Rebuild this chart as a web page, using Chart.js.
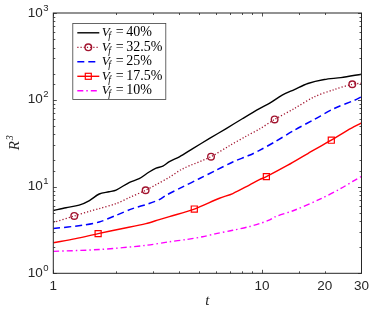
<!DOCTYPE html>
<html>
<head>
<meta charset="utf-8">
<script src="https://cdn.jsdelivr.net/npm/chart.js@4/dist/chart.umd.min.js"></script>
<style>
  html, body { margin: 0; padding: 0; background: #fff; }
  #wrap { width: 374px; height: 313px; }
</style>
</head>
<body>
<div id="wrap"><canvas id="growth"></canvas></div>
<script>
// t and R^3, one pair of arrays per volume fraction
const t40 = [1, 1.15, 1.33, 1.49, 1.66, 1.85, 2.0, 2.32, 2.58, 2.88, 3.11, 3.35, 3.6, 4.02, 4.66, 5.61, 6.74, 8.09, 9.73, 10.9, 12.5, 14.3, 16.6, 19.9, 23.9, 30];
const r40 = [5.3, 5.7, 6.1, 6.9, 8.2, 8.7, 9.1, 11.2, 12.3, 14.7, 16.3, 17.2, 19.4, 22, 27.4, 35.8, 46.6, 60.8, 79, 91.5, 113, 131, 154, 171, 180, 197];

const t325 = [1, 1.26, 1.5, 1.66, 2.0, 2.32, 2.77, 3.11, 3.6, 4.17, 5.7, 6.98, 8.4, 9.73, 11.5, 14.3, 17.8, 22.2, 27.1, 30];
const r325 = [3.85, 4.58, 5.2, 5.57, 6.36, 7.47, 9.06, 10.5, 12.8, 16, 22.1, 29.5, 38, 46, 59.3, 79.3, 108, 131, 151, 155];

const t25 = [1, 1.38, 1.66, 2.0, 2.4, 2.88, 3.22, 3.47, 4.17, 5.0, 6.03, 7.25, 8.7, 9.73, 11.5, 14.3, 17.8, 22.2, 27.8, 30];
const r25 = [3.28, 3.58, 3.9, 4.66, 5.57, 6.36, 7.07, 7.93, 9.9, 12.3, 15.4, 19.2, 22.9, 26.1, 32.6, 44.6, 59.3, 79.3, 98.9, 108];

const t175 = [1, 1.28, 1.64, 2.15, 2.78, 3.22, 3.6, 4.74, 6.26, 7.25, 8.7, 9.73, 10.5, 13.3, 16.6, 21.5, 25.8, 30];
const r175 = [2.25, 2.51, 2.87, 3.28, 3.74, 4.16, 4.5, 5.5, 7.33, 8.3, 10.4, 12.0, 13.0, 17.6, 24, 34.2, 44.6, 54];

const t10 = [1, 1.66, 2.78, 3.6, 4.33, 5.2, 6.03, 7.25, 8.7, 9.73, 10.9, 11.5, 14.3, 19.2, 23.9, 27.8, 30];
const r10 = [1.79, 1.88, 2.1, 2.31, 2.45, 2.64, 2.87, 3.13, 3.45, 3.74, 4.12, 4.46, 5.33, 7.26, 9.5, 11.8, 13.1];

// which samples carry a marker
const marks325 = [1, 6, 10, 14, 18];
const marks175 = [2, 7, 12, 15];

const fractions = ['40%', '32.5%', '25%', '17.5%', '10%'];
const xTickLabels = [1, 10, 20, 30];
const yDecades = [0, 1, 2, 3];

const sans = '"Liberation Sans", Arial, Helvetica, sans-serif';
const serif = '"Liberation Serif", "Times New Roman", serif';
const axisColor = '#262626';

function pts(t, r) {
  return t.map((x, i) => ({ x: x, y: r[i] }));
}

const datasets = [
  { data: pts(t40, r40), borderColor: '#000000', borderWidth: 1.4, pointRadius: 0 },
  {
    data: pts(t325, r325), borderColor: '#a2142f', borderWidth: 1.3, borderDash: [1.2, 2],
    pointStyle: 'circle', pointRadius: c => marks325.includes(c.dataIndex) ? 3.3 : 0,
    pointBorderColor: '#a2142f', pointBackgroundColor: 'rgba(0,0,0,0)', pointBorderWidth: 1.4
  },
  { data: pts(t25, r25), borderColor: '#0000ff', borderWidth: 1.5, borderDash: [7, 4], pointRadius: 0 },
  {
    data: pts(t175, r175), borderColor: '#ff0000', borderWidth: 1.4,
    pointStyle: 'rect', pointRadius: c => marks175.includes(c.dataIndex) ? 4.3 : 0,
    pointBorderColor: '#ff0000', pointBackgroundColor: 'rgba(0,0,0,0)', pointBorderWidth: 1.2
  },
  { data: pts(t10, r10), borderColor: '#ff00ff', borderWidth: 1.4, borderDash: [6, 3, 1.5, 3], pointRadius: 0 }
];
datasets.forEach(d => { d.fill = false; d.tension = 0.3; });

function isDecade(v) {
  const l = Math.log10(v);
  return Math.abs(l - Math.round(l)) < 1e-9;
}

const framePlugin = {
  id: 'frame',
  afterDraw(chart) {
    const { ctx, chartArea: a, scales: { x, y } } = chart;
    ctx.save();

    // box and inward ticks on all sides
    ctx.strokeStyle = axisColor;
    ctx.lineWidth = 1;
    ctx.setLineDash([]);
    ctx.strokeRect(a.left, a.top, a.right - a.left, a.bottom - a.top);
    ctx.lineWidth = 0.8;
    ctx.beginPath();
    x.ticks.forEach(tk => {
      const px = Math.round(x.getPixelForValue(tk.value)) + 0.5;
      const len = isDecade(tk.value) ? 3.5 : 2;
      ctx.moveTo(px, a.bottom); ctx.lineTo(px, a.bottom - len);
      ctx.moveTo(px, a.top); ctx.lineTo(px, a.top + len);
    });
    y.ticks.forEach(tk => {
      const py = Math.round(y.getPixelForValue(tk.value)) + 0.5;
      const len = isDecade(tk.value) ? 3.5 : 2;
      ctx.moveTo(a.left, py); ctx.lineTo(a.left + len, py);
      ctx.moveTo(a.right, py); ctx.lineTo(a.right - len, py);
    });
    ctx.stroke();

    // y tick labels 10^n
    ctx.fillStyle = axisColor;
    yDecades.forEach(n => {
      const py = y.getPixelForValue(Math.pow(10, n));
      ctx.font = '13.5px ' + sans;
      ctx.textAlign = 'right';
      ctx.textBaseline = 'middle';
      ctx.fillText('10', a.left - 10.5, py);
      ctx.font = '9.5px ' + sans;
      ctx.textAlign = 'left';
      ctx.textBaseline = 'alphabetic';
      ctx.fillText(String(n), a.left - 10, py - 2.5);
    });

    // axis titles
    ctx.font = 'italic 15px ' + serif;
    ctx.textAlign = 'center';
    ctx.textBaseline = 'middle';
    ctx.fillText('t', (a.left + a.right) / 2, 301.5);
    ctx.save();
    ctx.translate(15, (a.top + a.bottom) / 2);
    ctx.rotate(-Math.PI / 2);
    ctx.textAlign = 'left';
    ctx.fillText('R', -7, 0);
    ctx.font = 'italic 10px ' + serif;
    ctx.fillText('3', 3, -5);
    ctx.restore();

    // legend
    const bx = a.left + 19, by = a.top + 10, bw = 93, bh = 76;
    ctx.fillStyle = '#ffffff';
    ctx.fillRect(bx, by, bw, bh);
    ctx.strokeStyle = '#404040';
    ctx.lineWidth = 0.8;
    ctx.strokeRect(bx + 0.5, by + 0.5, bw, bh);
    chart.data.datasets.forEach((d, i) => {
      const ry = by + 9.8 + i * 14.5;
      ctx.strokeStyle = d.borderColor;
      ctx.lineWidth = d.borderWidth;
      ctx.setLineDash(d.borderDash || []);
      ctx.beginPath();
      ctx.moveTo(bx + 5, ry); ctx.lineTo(bx + 27, ry);
      ctx.stroke();
      ctx.setLineDash([]);
      if (i === 1) {
        ctx.lineWidth = 1.4;
        ctx.beginPath();
        ctx.arc(bx + 16, ry, 3.3, 0, Math.PI * 2);
        ctx.stroke();
      } else if (i === 3) {
        ctx.lineWidth = 1.2;
        ctx.strokeRect(bx + 13, ry - 3, 6, 6);
      }
      const tx = bx + 29.5;
      ctx.fillStyle = '#000';
      ctx.textAlign = 'left';
      ctx.textBaseline = 'middle';
      ctx.font = 'italic 13px ' + serif;
      ctx.fillText('V', tx, ry);
      const wv = ctx.measureText('V').width;
      ctx.font = 'italic 9.5px ' + serif;
      ctx.fillText('f', tx + wv - 1.5, ry + 4);
      ctx.font = '14px ' + serif;
      ctx.fillText('=', tx + 14, ry);
      ctx.fillText(fractions[i], tx + 24.5, ry);
    });

    ctx.restore();
  }
};

new Chart(document.getElementById('growth'), {
  type: 'line',
  data: { datasets: datasets },
  options: {
    responsive: true,
    maintainAspectRatio: false,
    animation: false,
    devicePixelRatio: 1,
    layout: { padding: { top: 13, right: 11.3, left: 0, bottom: 0 } },
    plugins: { legend: { display: false }, tooltip: { enabled: false } },
    scales: {
      x: {
        type: 'logarithmic',
        min: 1,
        max: 30,
        grid: { display: false, drawTicks: false },
        border: { display: false },
        ticks: {
          autoSkip: false,
          maxRotation: 0,
          padding: 5,
          color: axisColor,
          font: { family: sans, size: 13.5 },
          callback: v => xTickLabels.includes(Math.round(v)) && Math.abs(v - Math.round(v)) < 1e-9 ? String(Math.round(v)) : ''
        },
        afterFit: s => { s.height = 39.7; }
      },
      y: {
        type: 'logarithmic',
        min: 1,
        max: 1000,
        grid: { display: false, drawTicks: false },
        border: { display: false },
        ticks: { display: false },
        afterFit: s => { s.width = 53.3; }
      }
    }
  },
  plugins: [framePlugin]
});
</script>
</body>
</html>
